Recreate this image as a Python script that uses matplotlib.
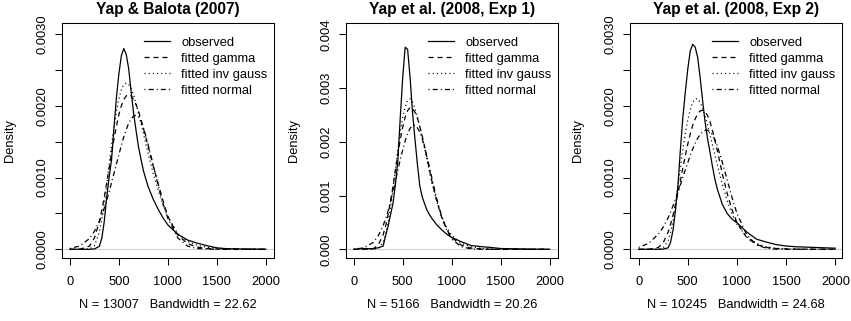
import numpy as np
import matplotlib
matplotlib.use('Agg')
import matplotlib.pyplot as plt

plt.rcParams['font.family'] = ['Liberation Sans', 'DejaVu Sans']
plt.rcParams['lines.scale_dashes'] = False

# shared grid of response times (ms)
rt = [0, 100, 200, 250, 300, 325, 350, 375, 400, 425, 450, 475, 500, 525, 550,
      575, 600, 625, 650, 675, 700, 725, 750, 775, 800, 850, 900, 950, 1000,
      1100, 1200, 1300, 1400, 1500, 1600, 1800, 2000]

titles = ['Yap & Balota (2007)', 'Yap et al. (2008, Exp 1)', 'Yap et al. (2008, Exp 2)']
subs = ['N = 13007   Bandwidth = 22.62', 'N = 5166   Bandwidth = 20.26',
        'N = 10245   Bandwidth = 24.68']
labels = ['observed', 'fitted gamma', 'fitted inv gauss', 'fitted normal']

# densities in units of 1e-3
p1_obs = [0, 0, 0, 0.005, 0.04, 0.15, 0.38, 0.72, 1.0, 1.25, 1.7, 2.12, 2.45, 2.7, 2.8,
          2.72, 2.52, 2.2, 1.9, 1.66, 1.43, 1.26, 1.1, 0.98, 0.87, 0.7, 0.56, 0.44, 0.34,
          0.21, 0.13, 0.085, 0.05, 0.02, 0.008, 0.003, 0.001]
p1_gam = [0, 0.0004, 0.045, 0.157, 0.38, 0.54, 0.72, 0.92, 1.13, 1.34, 1.54, 1.72, 1.88, 2.0, 2.09,
          2.14, 2.16, 2.14, 2.09, 2.02, 1.93, 1.81, 1.69, 1.56, 1.43, 1.16, 0.92, 0.68, 0.46,
          0.2, 0.08, 0.03, 0.01, 0.003, 0.001, 0, 0]
p1_ig = [0, 0, 0.0035, 0.048, 0.235, 0.41, 0.63, 0.89, 1.17, 1.45, 1.71, 1.93, 2.10, 2.23, 2.30,
         2.32, 2.30, 2.24, 2.15, 2.03, 1.90, 1.76, 1.62, 1.47, 1.33, 1.06, 0.83, 0.62, 0.45,
         0.22, 0.11, 0.055, 0.028, 0.014, 0.007, 0.0015, 0.0004]
p1_norm = [0.012, 0.045, 0.15, 0.25, 0.39, 0.47, 0.57, 0.68, 0.80, 0.93, 1.06, 1.19, 1.32, 1.45, 1.57,
           1.67, 1.76, 1.82, 1.86, 1.87, 1.85, 1.79, 1.70, 1.58, 1.45, 1.18, 0.90, 0.64, 0.43,
           0.16, 0.045, 0.01, 0.002, 0, 0, 0, 0]

p2_obs = [0, 0.015, 0.01, 0.03, 0.06, 0.25, 0.42, 0.64, 0.85, 1.2, 1.65, 2.45, 3.2, 3.76, 3.72,
          3.2, 2.55, 2.05, 1.58, 1.17, 0.97, 0.84, 0.72, 0.64, 0.57, 0.45, 0.36, 0.28, 0.22,
          0.14, 0.07, 0.05, 0.035, 0.015, 0.012, 0.004, 0.001]
p2_gam = [0, 0, 0.014, 0.08, 0.27, 0.43, 0.64, 0.89, 1.17, 1.47, 1.76, 2.04, 2.27, 2.46, 2.58,
          2.64, 2.62, 2.55, 2.44, 2.28, 2.1, 1.9, 1.68, 1.46, 1.25, 0.88, 0.58, 0.37, 0.22,
          0.075, 0.022, 0.006, 0.0015, 0, 0, 0, 0]
p2_ig = [0, 0, 0.0005, 0.016, 0.13, 0.27, 0.49, 0.78, 1.12, 1.49, 1.85, 2.18, 2.46, 2.65, 2.77,
         2.80, 2.74, 2.62, 2.46, 2.28, 2.08, 1.86, 1.64, 1.42, 1.22, 0.88, 0.6, 0.4, 0.26,
         0.11, 0.045, 0.018, 0.007, 0.003, 0.001, 0.0002, 0]
p2_norm = [0.004, 0.025, 0.13, 0.25, 0.44, 0.57, 0.71, 0.88, 1.07, 1.26, 1.47, 1.67, 1.85, 2.02, 2.15,
           2.25, 2.30, 2.31, 2.26, 2.18, 2.05, 1.89, 1.71, 1.51, 1.31, 0.92, 0.60, 0.355, 0.19,
           0.045, 0.008, 0.0013, 0, 0, 0, 0, 0]

p3_obs = [0, 0, 0, 0.003, 0.02, 0.1, 0.27, 0.55, 0.9, 1.4, 1.85, 2.2, 2.52, 2.77, 2.86,
          2.82, 2.68, 2.4, 2.08, 1.78, 1.55, 1.36, 1.16, 0.98, 0.84, 0.63, 0.5, 0.42, 0.37,
          0.24, 0.14, 0.1, 0.065, 0.045, 0.035, 0.025, 0.015]
p3_gam = [0, 0, 0.025, 0.092, 0.24, 0.35, 0.48, 0.63, 0.79, 0.96, 1.14, 1.31, 1.47, 1.61, 1.73,
          1.82, 1.89, 1.93, 1.94, 1.92, 1.87, 1.78, 1.66, 1.52, 1.38, 1.06, 0.78, 0.55, 0.37,
          0.16, 0.065, 0.025, 0.01, 0.004, 0.0015, 0, 0]
p3_ig = [0, 0, 0.001, 0.02, 0.12, 0.24, 0.40, 0.62, 0.88, 1.14, 1.40, 1.62, 1.81, 1.95, 2.05,
         2.10, 2.10, 2.05, 1.97, 1.86, 1.74, 1.60, 1.46, 1.32, 1.18, 0.91, 0.68, 0.49, 0.35,
         0.17, 0.08, 0.035, 0.015, 0.007, 0.003, 0.0006, 0.0001]
p3_norm = [0.027, 0.081, 0.21, 0.31, 0.44, 0.52, 0.61, 0.70, 0.80, 0.90, 1.01, 1.11, 1.21, 1.31, 1.40,
           1.48, 1.55, 1.60, 1.64, 1.66, 1.66, 1.64, 1.60, 1.53, 1.44, 1.22, 0.97, 0.72, 0.50,
           0.2, 0.06, 0.014, 0.002, 0, 0, 0, 0]

panels = [
    [p1_obs, p1_gam, p1_ig, p1_norm],
    [p2_obs, p2_gam, p2_ig, p2_norm],
    [p3_obs, p3_gam, p3_ig, p3_norm],
]

ylims = [(-0.000126, 0.003153), (-0.000167, 0.004205), (-0.000126, 0.003153)]
xlims = [(-81, 2084), (-79, 2085), (-88, 2068)]
yticks = [np.arange(0, 0.00301, 0.0005), np.arange(0, 0.00401, 0.001), np.arange(0, 0.00301, 0.0005)]
lefts = [62, 346, 630]

styles = [
    dict(linestyle='-'),
    dict(linestyle=(0, (3.6, 2.9))),
    dict(linestyle=(0, (0.8, 2.2))),
    dict(linestyle=(0, (0.8, 2.2, 3.6, 2.2))),
]

W, H = 851, 321
fig = plt.figure(figsize=(W / 100, H / 100), dpi=100)
fs = 9.3

for i in range(3):
    ax = fig.add_axes([lefts[i] / W, 1 - 258.3 / H, 212 / W, 235 / H])
    ax.axhline(0, color='#d0d0d0', lw=0.8, zorder=0)
    for k in range(4):
        ax.plot(rt, np.array(panels[i][k]) / 1000, color='black', lw=0.9,
                label=labels[k], **styles[k])
    ax.set_xlim(*xlims[i])
    ax.set_ylim(*ylims[i])
    ax.set_xticks([0, 500, 1000, 1500, 2000])
    ax.set_yticks(yticks[i])
    if i == 1:
        ax.set_yticklabels(['%.3f' % v for v in yticks[i]])
    else:
        ax.set_yticklabels(['%.4f' % v if round(v * 10000) % 10 == 0 else '' for v in yticks[i]])
    ax.tick_params(direction='out', length=5, width=0.75, labelsize=fs, colors='black')
    ax.tick_params(axis='x', pad=7.8)
    ax.tick_params(axis='y', pad=5, labelrotation=90)
    for t in ax.get_yticklabels():
        t.set_va('center')
    for s in ax.spines.values():
        s.set_linewidth(0.75)
    ax.text(0.5, 1.057, titles[i], transform=ax.transAxes, ha='center', va='center',
            fontsize=11.2, fontweight='bold')
    ax.text(0.5, -0.199, subs[i], transform=ax.transAxes, ha='center', va='center', fontsize=fs)
    ax.text(-0.246, 0.5, 'Density', transform=ax.transAxes, ha='center', va='center',
            rotation=90, fontsize=fs)
    ax.legend(loc='upper right', bbox_to_anchor=(1.0, 0.97), frameon=False, fontsize=fs,
              handlelength=1.95, handletextpad=0.9, labelspacing=0.3, borderaxespad=0.2,
              borderpad=0.3)

fig.savefig('out.png', dpi=100)
